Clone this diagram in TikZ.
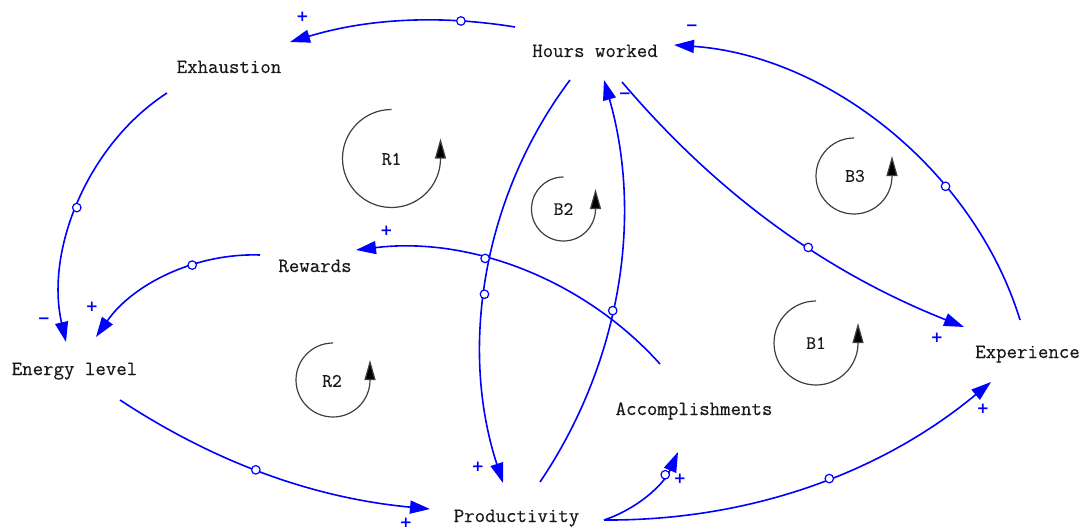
\documentclass[tikz,border=0pt]{standalone}
\usepackage{fontspec}
\newfontfamily\signfont{DejaVu Sans}
\newfontfamily\varfont{Latin Modern Mono}[FakeBold=0.4]
\usetikzlibrary{arrows.meta,calc}
\begin{document}
\begin{tikzpicture}[x=1pt,y=-1pt,
 var/.style={font=\varfont\fontsize{20.3}{24}\selectfont, text=black!90, anchor=base, inner sep=0pt},
 lnk/.style={draw=blue, line width=1.6pt, -{Triangle[length=20pt,width=13pt]}, looseness=0.9},
 mk/.style={circle, draw=blue, fill=white, line width=1.2pt, inner sep=0pt, minimum size=8.5pt},
 sgn/.style={text=blue, font=\signfont\bfseries\fontsize{15}{15}\selectfont, inner sep=0pt},
 loopc/.style={draw=black!75, line width=1.2pt, -{Triangle[length=20pt,width=11pt,fill=black]}},
 looplbl/.style={font=\varfont\fontsize{19}{22}\selectfont, text=black!90, inner sep=0pt}
]
\useasboundingbox[fill=white] (0,0) rectangle (1083,532);

% variables
\node[var] (hw) at (595,57) {Hours worked};
\node[var] (ex) at (229,73) {Exhaustion};
\node[var] (rw) at (315,272) {Rewards};
\node[var] (en) at (74.5,375) {Energy level};
\node[var] (pr) at (516.5,522) {Productivity};
\node[var] (ac) at (694,415) {Accomplishments};
\node[var] (xp) at (1027.5,358) {Experience};

% loop markers
\node[looplbl] (r1) at (391.5,159) {R1};
\draw[loopc] (391.5,158.5) ++(0,-49) arc[start angle=-90, end angle=-360, radius=49] -- ++(0,-20);
\node[looplbl] (b2) at (563.5,209) {B2};
\draw[loopc] (563.5,209) ++(0,-32) arc[start angle=-90, end angle=-360, radius=32] -- ++(0,-20);
\node[looplbl] (b3) at (855,176) {B3};
\draw[loopc] (854,176) ++(0,-38) arc[start angle=-90, end angle=-360, radius=38] -- ++(0,-20);
\node[looplbl] (b1) at (816,343) {B1};
\draw[loopc] (816,343) ++(0,-42) arc[start angle=-90, end angle=-360, radius=42] -- ++(0,-20);
\node[looplbl] (r2) at (332,381) {R2};
\draw[loopc] (333,380) ++(0,-37) arc[start angle=-90, end angle=-360, radius=37] -- ++(0,-20);

% connectors
\draw[lnk] ($(hw.base)+(-80,-30)$) to[bend right=13] node[mk,pos=.235]{} ($(ex.base)+(61,-31)$);
\draw[lnk] ($(ex.base)+(-62,20)$) to[bend right=35] node[mk,pos=.52]{} ($(en.base)+(-8.5,-33)$);
\draw[lnk] ($(rw.base)+(-55,-17)$) to[bend right=28.5] node[mk,pos=.36]{} ($(en.base)+(21.5,-38)$);
\draw[lnk] ($(en.base)+(45.5,25)$) to[bend right=14] node[mk,pos=.46]{} ($(pr.base)+(-86.5,-13)$);
\draw[lnk] ($(hw.base)+(-25,23)$) to[bend right=27.5] node[mk,pos=.55]{} ($(pr.base)+(-13.5,-39)$);
\draw[lnk] ($(pr.base)+(23.5,-40)$) to[bend right=25] node[mk,pos=.445]{} ($(hw.base)+(9,23)$);
\draw[lnk] ($(ac.base)+(-34,-51)$) to[bend right=27.5] node[mk,pos=.615]{} ($(rw.base)+(41,-22)$);
\draw[lnk] ($(hw.base)+(27,25)$) to[bend right=14] node[mk,pos=.59]{} ($(xp.base)+(-63.5,-31)$);
\draw[lnk] ($(xp.base)+(-7.5,-38)$) to[bend right=34.5] node[mk,pos=.33]{} ($(hw.base)+(79,-12)$);
\draw[lnk] ($(pr.base)+(87.5,-2)$) to[bend right=20] node[mk,pos=.55]{} ($(xp.base)+(-36.5,24)$);
\draw[lnk] ($(pr.base)+(87.5,-2)$) to[bend right=24] node[mk,pos=.75]{} ($(ac.base)+(-16,37)$);

% polarity signs
\node[sgn] (s1) at (302.5,17) {+};
\node[sgn] (s2) at (44,321) {−};
\node[sgn] (s3) at (92,307) {+};
\node[sgn] (s4) at (406,523) {+};
\node[sgn] (s5) at (478,467) {+};
\node[sgn] (s6) at (625,96) {−};
\node[sgn] (s7) at (386.5,231) {+};
\node[sgn] (s8) at (937,338) {+};
\node[sgn] (s9) at (692,28) {−};
\node[sgn] (s10) at (983,409) {+};
\node[sgn] (s11) at (680,479) {+};
\end{tikzpicture}
\end{document}
